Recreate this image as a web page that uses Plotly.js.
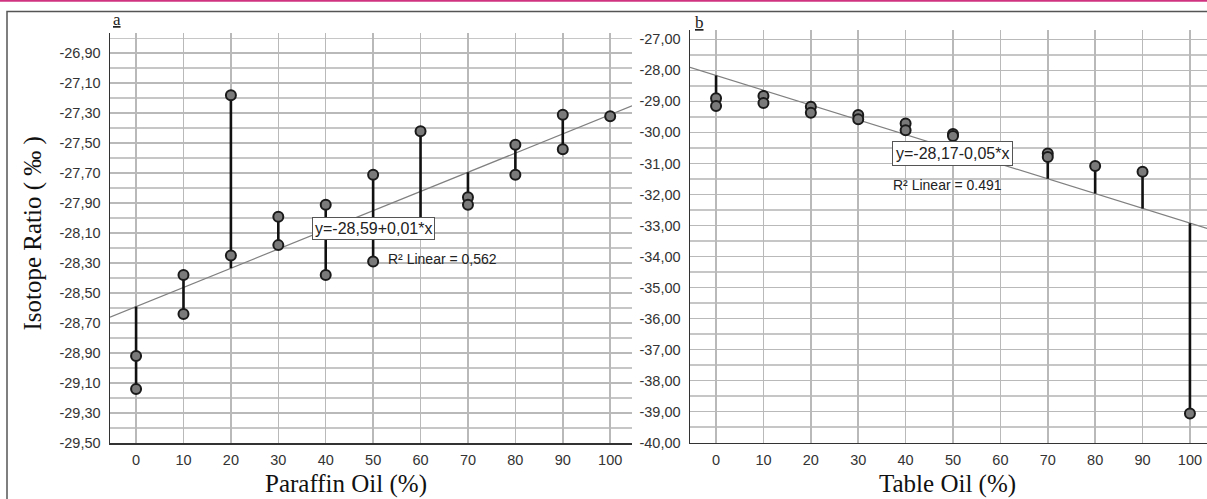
<!DOCTYPE html>
<html>
<head>
<meta charset="utf-8">
<script src="https://cdn.plot.ly/plotly-3.0.1.min.js"></script>
<style>
  html, body { margin: 0; padding: 0; background: #ffffff; }
  #chart { width: 1207px; height: 499px; }
</style>
</head>
<body>
<div id="chart"></div>
<script>
// ---- Data ----
const paraffinX = [0, 0, 10, 10, 20, 20, 30, 30, 40, 40, 50, 50, 60, 60, 70, 70, 80, 80, 90, 90, 100];
const paraffinY = [-28.92, -29.14, -28.38, -28.64, -27.18, -28.25, -27.99, -28.18, -27.91, -28.38,
                   -27.71, -28.29, -27.42, -28.08, -27.86, -27.91, -27.51, -27.71, -27.31, -27.54, -27.32];
const tableX = [0, 0, 10, 10, 20, 20, 30, 30, 40, 40, 50, 50, 70, 70, 80, 90, 100];
const tableY = [-28.90, -29.15, -28.83, -29.05, -29.17, -29.37, -29.44, -29.58, -29.71, -29.93,
                -30.05, -30.12, -30.68, -30.79, -31.08, -31.27, -39.06];

// linear fit lines as drawn
const paraffinIntercept = -28.59, paraffinSlope = 0.0128;
const tableIntercept = -28.165, tableSlope = -0.0476;

const fitLabelA = "y=-28,59+0,01*x";
const r2LabelA = "R² Linear = 0,562";
const fitLabelB = "y=-28,17-0,05*x";
const r2LabelB = "R² Linear = 0.491";

const xTickVals = [0, 10, 20, 30, 40, 50, 60, 70, 80, 90, 100];
const xTickText = ["0", "10", "20", "30", "40", "50", "60", "70", "80", "90", "100"];
const paraffinYTickVals = [-29.5, -29.3, -29.1, -28.9, -28.7, -28.5, -28.3, -28.1, -27.9, -27.7, -27.5, -27.3, -27.1, -26.9];
const paraffinYTickText = ["-29,50", "-29,30", "-29,10", "-28,90", "-28,70", "-28,50", "-28,30", "-28,10", "-27,90", "-27,70", "-27,50", "-27,30", "-27,10", "-26,90"];
const tableYTickVals = [-40, -39, -38, -37, -36, -35, -34, -33, -32, -31, -30, -29, -28, -27];
const tableYTickText = ["-40,00", "-39,00", "-38,00", "-37,00", "-36,00", "-35,00", "-34,00", "-33,00", "-32,00", "-31,00", "-30,00", "-29,00", "-28,00", "-27,00"];

const xTitleA = "Paraffin Oil (%)";
const xTitleB = "Table Oil (%)";
const yTitle = "Isotope Ratio ( ‰ )";

// ---- helpers ----
function stems(xs, ys, a, b) {
  const groups = {};
  xs.forEach((x, i) => { (groups[x] = groups[x] || []).push(ys[i]); });
  const sx = [], sy = [];
  Object.keys(groups).map(Number).sort((p, q) => p - q).forEach(x => {
    const vals = groups[x].concat([a + b * x]);
    sx.push(x, x, null);
    sy.push(Math.min(...vals), Math.max(...vals), null);
  });
  return { x: sx, y: sy };
}

const xRangeA = [-5.5, 104.6];
const xRangeB = [-5.5, 103.6];

const sA = stems(paraffinX, paraffinY, paraffinIntercept, paraffinSlope);
const sB = stems(tableX, tableY, tableIntercept, tableSlope);

const markerStyle = { symbol: 'circle', size: 10, color: '#7a7a7a', line: { color: '#1a1a1a', width: 2 } };
const fitStyle = { color: '#808080', width: 1.2 };
const stemStyle = { color: '#111111', width: 2.6 };

const traces = [
  { x: xRangeA, y: xRangeA.map(x => paraffinIntercept + paraffinSlope * x), mode: 'lines', line: fitStyle, xaxis: 'x', yaxis: 'y', hoverinfo: 'skip' },
  { x: sA.x, y: sA.y, mode: 'lines', line: stemStyle, xaxis: 'x', yaxis: 'y', connectgaps: false, hoverinfo: 'skip' },
  { x: paraffinX, y: paraffinY, mode: 'markers', marker: markerStyle, xaxis: 'x', yaxis: 'y' },
  { x: xRangeB, y: xRangeB.map(x => tableIntercept + tableSlope * x), mode: 'lines', line: fitStyle, xaxis: 'x2', yaxis: 'y2', hoverinfo: 'skip' },
  { x: sB.x, y: sB.y, mode: 'lines', line: stemStyle, xaxis: 'x2', yaxis: 'y2', connectgaps: false, hoverinfo: 'skip' },
  { x: tableX, y: tableY, mode: 'markers', marker: markerStyle, xaxis: 'x2', yaxis: 'y2' }
];

const W = 1207, H = 499;
const px = v => v / W;
const py = v => (H - v) / H;

const tickFont = { family: 'Liberation Sans, Arial, sans-serif', size: 14.5, color: '#333333' };
const gridCol = '#b9b9b9';

const baseX = {
  tickmode: 'array', tickvals: xTickVals, ticktext: xTickText, tickfont: tickFont,
  showgrid: true, gridcolor: gridCol, gridwidth: 1.5, zeroline: false,
  showline: true, linecolor: '#333333', linewidth: 1.5, ticks: '', ticklabelstandoff: 3
};
const baseY = {
  tickmode: 'array', tickfont: tickFont,
  showgrid: true, gridcolor: gridCol, gridwidth: 1.5, zeroline: false,
  showline: true, linecolor: '#333333', linewidth: 1.5, ticks: '', ticklabelstandoff: 5
};

const annFont = { family: 'Liberation Sans, Arial, sans-serif', size: 14, color: '#222222' };
const boxFont = { family: 'Liberation Sans, Arial, sans-serif', size: 16, color: '#222222' };
const serif = 'Liberation Serif, Times New Roman, serif';

const layout = {
  width: W, height: H,
  margin: { l: 0, r: 0, t: 0, b: 0, pad: 0 },
  paper_bgcolor: '#ffffff', plot_bgcolor: '#ffffff',
  showlegend: false,
  xaxis: Object.assign({}, baseX, { domain: [px(110), px(632)], range: xRangeA, anchor: 'y' }),
  yaxis: Object.assign({}, baseY, {
    domain: [py(443), py(33)], range: [-29.5, -26.765], anchor: 'x',
    tickvals: paraffinYTickVals, ticktext: paraffinYTickText,
    minor: { tick0: -29.5, dtick: 0.1, showgrid: true, gridcolor: '#c6c6c6', gridwidth: 1.5, ticks: '' }
  }),
  xaxis2: Object.assign({}, baseX, { domain: [px(690), 1], range: xRangeB, anchor: 'y2' }),
  yaxis2: Object.assign({}, baseY, {
    domain: [py(442.7), py(30)], range: [-40, -26.7], anchor: 'x2',
    tickvals: tableYTickVals, ticktext: tableYTickText,
    minor: { tick0: -40, dtick: 0.5, showgrid: true, gridcolor: '#c6c6c6', gridwidth: 1.5, ticks: '' }
  }),
  shapes: [
    { type: 'rect', xref: 'paper', yref: 'paper', x0: px(7), x1: 1.05, y0: -0.05, y1: py(11.5),
      line: { color: '#555555', width: 1.5 }, layer: 'below' },
    { type: 'line', xref: 'paper', yref: 'paper', x0: 0, x1: 1, y0: py(0.8), y1: py(0.8),
      line: { color: '#d0337f', width: 2 } }
  ],
  annotations: [
    { xref: 'x', yref: 'y', x: 50.1, y: -28.071, text: fitLabelA, showarrow: false, font: boxFont,
      bgcolor: '#ffffff', bordercolor: '#555555', borderwidth: 1, borderpad: 2, xanchor: 'center', yanchor: 'middle' },
    { xref: 'x', yref: 'y', x: 52.7, y: -28.271, text: r2LabelA, showarrow: false, font: annFont,
      xanchor: 'left', yanchor: 'middle' },
    { xref: 'x2', yref: 'y2', x: 50.0, y: -30.668, text: fitLabelB, showarrow: false, font: boxFont,
      bgcolor: '#ffffff', bordercolor: '#555555', borderwidth: 1, borderpad: 3, xanchor: 'center', yanchor: 'middle' },
    { xref: 'x2', yref: 'y2', x: 36.9, y: -31.70, text: r2LabelB, showarrow: false, font: annFont,
      xanchor: 'left', yanchor: 'middle' },
    { xref: 'paper', yref: 'paper', x: px(346), y: py(484), text: xTitleA, showarrow: false,
      font: { family: serif, size: 25, color: '#111111' }, xanchor: 'center', yanchor: 'middle' },
    { xref: 'paper', yref: 'paper', x: px(947), y: py(484), text: xTitleB, showarrow: false,
      font: { family: serif, size: 25, color: '#111111' }, xanchor: 'center', yanchor: 'middle' },
    { xref: 'paper', yref: 'paper', x: px(33), y: py(233.5), text: yTitle, showarrow: false, textangle: -90,
      font: { family: serif, size: 25, color: '#111111' }, xanchor: 'center', yanchor: 'middle' },
    { xref: 'paper', yref: 'paper', x: px(117), y: py(19), text: '<span style="text-decoration:underline">a</span>', showarrow: false,
      font: { family: serif, size: 17, color: '#222222' }, xanchor: 'center', yanchor: 'middle' },
    { xref: 'paper', yref: 'paper', x: px(699), y: py(22), text: '<span style="text-decoration:underline">b</span>', showarrow: false,
      font: { family: serif, size: 17, color: '#222222' }, xanchor: 'center', yanchor: 'middle' }
  ]
};

Plotly.newPlot('chart', traces, layout, { staticPlot: true, displayModeBar: false });
</script>
</body>
</html>
